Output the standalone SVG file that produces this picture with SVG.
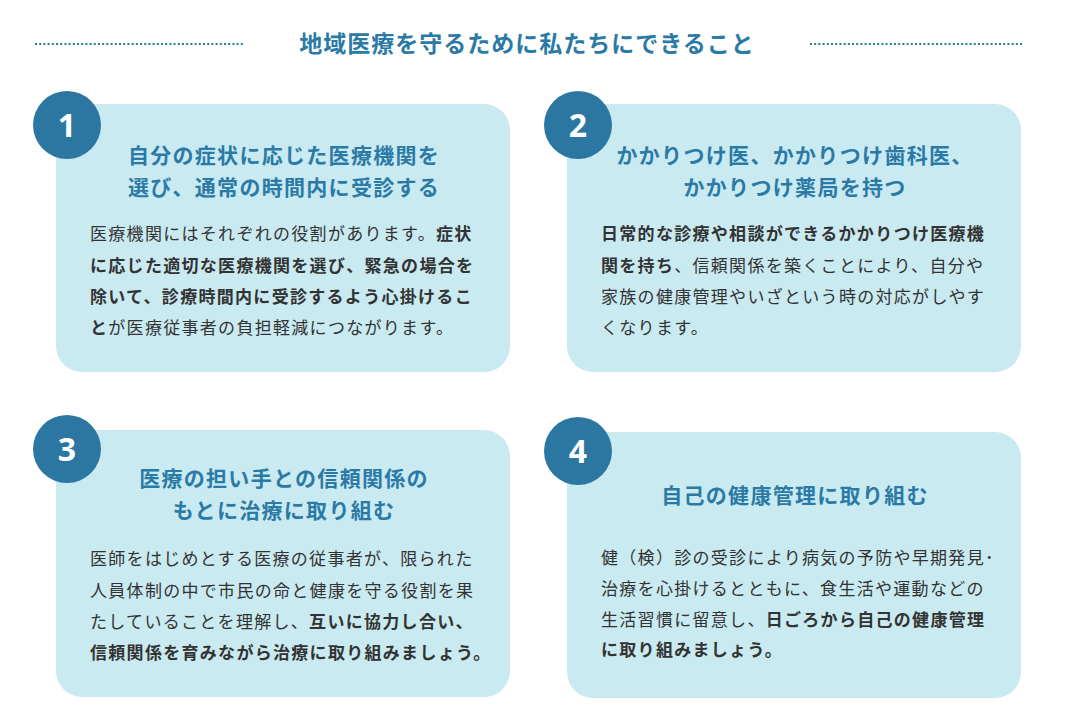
<svg xmlns="http://www.w3.org/2000/svg" width="1074" height="720" viewBox="0 0 1074 720">
<style>
.card{fill:#c9eaf1}
.num{fill:#2b77a2}
.nt{font-family:"Noto Sans","Noto Sans CJK JP",sans-serif;font-size:32px;font-weight:bold;fill:#fff;text-anchor:middle}
.hd{font-family:"Noto Sans CJK JP",sans-serif;font-size:21px;font-weight:bold;fill:#2b7aa6;text-anchor:middle;letter-spacing:1.3px}
.bd{font-family:"Noto Sans CJK JP",sans-serif;font-size:17px;fill:#333;letter-spacing:1.3px}
.b{font-weight:bold}
.dot{stroke:#2b7aa6;stroke-width:2;stroke-dasharray:2 2.2}
</style>
<rect width="1074" height="720" fill="#fff"/>
<g id="title">
<line class="dot" x1="35" y1="44" x2="243" y2="44"/>
<line class="dot" x1="810" y1="44" x2="1022" y2="44"/>
<text x="527" y="52" font-family="'Noto Sans CJK JP',sans-serif" font-size="23" font-weight="bold" fill="#2b7aa6" text-anchor="middle" letter-spacing="1">地域医療を守るために私たちにできること</text>
</g>
<g id="node1">
<rect class="card" x="56" y="104" width="454" height="268" rx="26"/>
<circle class="num" cx="67" cy="125" r="34"/>
<text class="nt" x="67" y="137">1</text>
<text class="hd" x="284" y="163">自分の症状に応じた医療機関を</text>
<text class="hd" x="284" y="195">選び、通常の時間内に受診する</text>
<text class="bd" x="90" y="240">医療機関にはそれぞれの役割があります。<tspan class="b">症状</tspan></text>
<text class="bd b" x="90" y="272">に応じた適切な医療機関を選び、緊急の場合を</text>
<text class="bd b" x="90" y="303">除いて、診療時間内に受診するよう心掛けるこ</text>
<text class="bd" x="90" y="334"><tspan class="b">と</tspan>が医療従事者の負担軽減につながります。</text>
</g>
<g id="node2">
<rect class="card" x="567" y="104" width="454" height="268" rx="26"/>
<circle class="num" cx="578" cy="125" r="34"/>
<text class="nt" x="578" y="137">2</text>
<text class="hd" x="795" y="163">かかりつけ医、かかりつけ歯科医、</text>
<text class="hd" x="795" y="195">かかりつけ薬局を持つ</text>
<text class="bd b" x="601" y="240">日常的な診療や相談ができるかかりつけ医療機</text>
<text class="bd" x="601" y="272"><tspan class="b">関を持ち</tspan>、信頼関係を築くことにより、自分や</text>
<text class="bd" x="601" y="303">家族の健康管理やいざという時の対応がしやす</text>
<text class="bd" x="601" y="334">くなります。</text>
</g>
<g id="node3">
<rect class="card" x="56" y="430" width="454" height="267" rx="26"/>
<circle class="num" cx="67" cy="449" r="34"/>
<text class="nt" x="67" y="461">3</text>
<text class="hd" x="284" y="486">医療の担い手との信頼関係の</text>
<text class="hd" x="284" y="518">もとに治療に取り組む</text>
<text class="bd" x="90" y="565">医師をはじめとする医療の従事者が、限られた</text>
<text class="bd" x="90" y="597">人員体制の中で市民の命と健康を守る役割を果</text>
<text class="bd" x="90" y="628">たしていることを理解し、<tspan class="b">互いに協力し合い、</tspan></text>
<text class="bd b" x="90" y="659">信頼関係を育みながら治療に取り組みましょう。</text>
</g>
<g id="node4">
<rect class="card" x="567" y="432" width="454" height="266" rx="26"/>
<circle class="num" cx="578" cy="451" r="34"/>
<text class="nt" x="578" y="463">4</text>
<text class="hd" x="795" y="503">自己の健康管理に取り組む</text>
<text class="bd" x="601" y="564">健（検）診の受診により病気の予防や早期発見･</text>
<text class="bd" x="601" y="595">治療を心掛けるとともに、食生活や運動などの</text>
<text class="bd" x="601" y="626">生活習慣に留意し、<tspan class="b">日ごろから自己の健康管理</tspan></text>
<text class="bd b" x="601" y="656">に取り組みましょう。</text>
</g>
<g id="connectors"/>
</svg>
